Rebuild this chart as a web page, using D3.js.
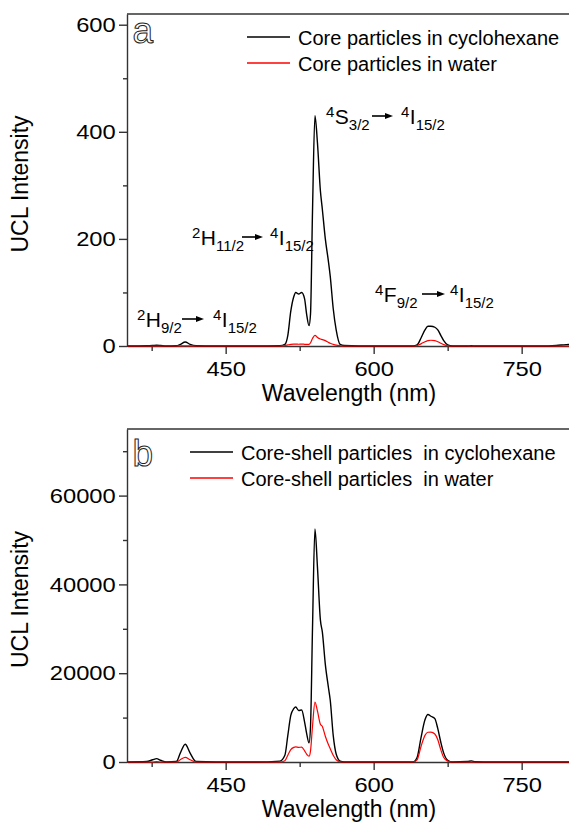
<!DOCTYPE html>
<html lang="en">
<head>
<meta charset="utf-8">
<title>UCL spectra</title>
<script src="https://d3js.org/d3.v7.min.js"></script>
<style type="text/css">
  body{margin:0;background:#fff;}
  svg{display:block;font-family:"Liberation Sans",Arial,sans-serif;}
  .axis .tick text{font-size:21px;fill:#000;font-family:"Liberation Sans",Arial,sans-serif;}
  .axis path,.axis line{stroke:#333;stroke-width:1.4px;}
  .title{font-size:23px;fill:#000;}
  .legend{font-size:20px;white-space:pre;fill:#000;}
  .note{font-size:21px;fill:#000;}
  .letter{font-size:37px;fill:#fff;stroke:#222;stroke-width:1px;}
</style>
</head>
<body>
<div id="main"></div>
<script type="text/javascript">
var width = 569;
var height = 822;

// wavelength grid (nm) shared by the four spectra
var wavelength = [350, 370, 376, 380, 384, 390, 400, 404, 409, 414,
                  420, 440, 480, 505, 510, 513, 516, 519, 521, 524,
                  527, 530, 532, 534.5, 536, 538, 540.5, 543, 546, 548,
                  551, 554, 556, 559, 562, 566, 570, 600, 640, 644,
                  648, 652, 655, 658, 662, 665, 668, 671, 675, 680,
                  695, 699, 703, 720, 770, 785, 795, 800];

// panel a
var coreCyclo = [0, 0.5, 1, 1.5, 1, 0, 0.5, 3, 7.5, 3,
                 0.5, 0, 0, 0.5, 3, 20, 65, 92, 100, 97,
                 100, 88, 60, 38, 60, 250, 430, 380, 290, 255,
                 200, 160, 130, 70, 30, 3, 1, 0, 0, 2,
                 15, 30, 37, 37, 35, 30, 20, 10, 2, 0,
                 0, 0.5, 0, 0, 0, 1, 2.5, 3];
var coreWater = [0, 0, 0, 0, 0, 0, 0, 0.3, 0.5, 0.3,
                 0, 0, 0, 0, 1, 2, 3, 3.5, 3.5, 3.3,
                 3.5, 3.2, 3, 3, 6, 14, 20, 16, 13, 12,
                 10, 7, 5, 3, 1.5, 0.5, 0, 0, 0, 1,
                 4, 8, 10, 10.7, 10, 8, 5, 2.5, 0.5, 0,
                 0, 0, 0, 0, 0, 0, 0, 0];

// panel b
var shellCyclo = [0, 100, 500, 750, 400, 0, 100, 2000, 4000, 2000,
                  100, 0, 0, 200, 1500, 6000, 10500, 12000, 12400, 11600,
                  11700, 9000, 6500, 4300, 8000, 30000, 52500, 44000, 32000, 29250,
                  22000, 17000, 13900, 6000, 1800, 200, 0, 0, 0, 1000,
                  5500, 9500, 10700, 10300, 9770, 7500, 4500, 2000, 400, 0,
                  100, 250, 50, 0, 0, 0, 0, 0];
var shellWater = [0, 0, 0, 100, 0, 0, 0, 500, 1050, 500,
                  0, 0, 0, 0, 300, 1500, 2800, 3300, 3400, 3300,
                  3350, 2500, 1800, 1300, 2500, 8000, 13500, 11500, 8500, 8000,
                  5800, 4000, 3000, 1500, 500, 50, 0, 0, 0, 500,
                  3500, 6000, 6700, 6750, 6300, 5000, 2800, 1000, 200, 0,
                  0, 0, 0, 0, 0, 0, 0, 0];

var xTicks = [450, 600, 750];
var xMinor = [375, 525, 675];
var topTicks = [0, 200, 400, 600];
var topMinor = [100, 300, 500];
var botTicks = [0, 20000, 40000, 60000];
var botMinor = [10000, 30000, 50000, 70000];
var topLegend = ["Core particles in cyclohexane", "Core particles in water"];
var botLegend = ["Core-shell particles  in cyclohexane", "Core-shell particles  in water"];
var colors = ["#000000", "#ff0000"];

var notes = [
  {from: ["2", "H", "9/2"], to: ["4", "I", "15/2"]},
  {from: ["2", "H", "11/2"], to: ["4", "I", "15/2"]},
  {from: ["4", "S", "3/2"], to: ["4", "I", "15/2"]},
  {from: ["4", "F", "9/2"], to: ["4", "I", "15/2"]}
];

var svg = d3.select("div#main")
            .append("svg")
            .attr("width", width)
            .attr("height", height);

var x = d3.scaleLinear().domain([350, 800]).range([127, 571]);

function panel(p) {
  var y = d3.scaleLinear().domain(p.domain).range([p.bottom, p.top]);
  var g = svg.append("g");

  // top frame line
  g.append("line")
    .attr("x1", x.range()[0]).attr("x2", x.range()[1])
    .attr("y1", p.top).attr("y2", p.top)
    .attr("stroke", "#333").attr("stroke-width", 1.4);

  var line = d3.line()
    .x(function(d, i) { return x(wavelength[i]); })
    .y(function(d) { return y(d); })
    .curve(d3.curveMonotoneX);

  // axes
  g.append("g").attr("class", "axis")
    .attr("transform", "translate(0," + p.bottom + ")")
    .call(d3.axisBottom(x).tickValues(xTicks).tickSize(8).tickSizeOuter(0).tickPadding(7))
    .selectAll(".tick text").attr("transform", "scale(1.13,1)");
  g.append("g").attr("class", "axis")
    .attr("transform", "translate(0," + p.bottom + ")")
    .call(d3.axisBottom(x).tickValues(xMinor).tickSize(5).tickFormat(""))
    .select(".domain").remove();
  g.append("g").attr("class", "axis")
    .attr("transform", "translate(" + x.range()[0] + ",0)")
    .call(d3.axisLeft(y).tickValues(p.ticks).tickSize(8).tickSizeOuter(0).tickPadding(2).tickFormat(d3.format("d")))
    .selectAll(".tick text").attr("transform", "scale(1.13,1)");
  g.append("g").attr("class", "axis")
    .attr("transform", "translate(" + x.range()[0] + ",0)")
    .call(d3.axisLeft(y).tickValues(p.minor).tickSize(4).tickFormat(""))
    .select(".domain").remove();

  p.series.forEach(function(s, k) {
    g.append("path")
      .datum(s)
      .attr("d", line)
      .attr("fill", "none")
      .attr("stroke", colors[k])
      .attr("stroke-width", k == 0 ? 1.4 : 1.2);
  });

  g.append("text").attr("class", "title")
    .attr("x", (x.range()[0] + x.range()[1]) / 2)
    .attr("y", p.bottom + 55)
    .attr("text-anchor", "middle")
    .text("Wavelength (nm)");
  g.append("text").attr("class", "title")
    .attr("transform", "translate(28," + ((p.top + p.bottom) / 2 + 4) + ") rotate(-90)")
    .attr("text-anchor", "middle")
    .text("UCL Intensity");

  // legend
  p.legend.forEach(function(t, k) {
    var ly = p.top + 23 + k * 26;
    g.append("line")
      .attr("x1", p.legX).attr("x2", p.legX + 43)
      .attr("y1", ly).attr("y2", ly)
      .attr("stroke", colors[k]).attr("stroke-width", 1.3);
    g.append("text").attr("class", "legend")
      .attr("x", p.legX + 51).attr("y", ly + 7.5)
      .text(t);
  });

  g.append("text").attr("class", "letter")
    .attr("x", 132.5).attr("y", p.top + p.letterY)
    .text(p.letter);
  return g;
}

function term(g, t, xx, yy) {
  var text = g.append("text").attr("class", "note").attr("x", xx).attr("y", yy);
  text.append("tspan").attr("font-size", 15).attr("dy", -7).text(t[0]);
  text.append("tspan").attr("dy", 7).attr("dx", 0.5).text(t[1]);
  text.append("tspan").attr("font-size", 15).attr("dy", 6).text(t[2]);
}

function arrow(g, x1, x2, yy) {
  g.append("line")
    .attr("x1", x1).attr("x2", x2 - 6)
    .attr("y1", yy).attr("y2", yy)
    .attr("stroke", "#000").attr("stroke-width", 1.6);
  g.append("path")
    .attr("d", "M" + x2 + "," + yy + "L" + (x2 - 8) + "," + (yy - 3) + "L" + (x2 - 8) + "," + (yy + 3) + "Z")
    .attr("fill", "#000");
}

var ga = panel({top: 14, bottom: 346, domain: [0, 620], ticks: topTicks, minor: topMinor,
                series: [coreCyclo, coreWater], legend: topLegend, legX: 247, letter: "a", letterY: 29});
panel({top: 429, bottom: 762, domain: [0, 75000], ticks: botTicks, minor: botMinor,
       series: [shellCyclo, shellWater], legend: botLegend, legX: 190, letter: "b", letterY: 37});

// transition labels in panel a
var notePos = [
  {x: 137, y: 327, a1: 182, a2: 204, x2: 213},
  {x: 192, y: 245, a1: 242, a2: 263, x2: 270},
  {x: 326, y: 124, a1: 372, a2: 393, x2: 401},
  {x: 375, y: 302, a1: 422, a2: 445, x2: 450}
];
notes.forEach(function(n, i) {
  var q = notePos[i];
  term(ga, n.from, q.x, q.y);
  arrow(ga, q.a1, q.a2, q.y - 8);
  term(ga, n.to, q.x2, q.y);
});
</script>
</body>
</html>
